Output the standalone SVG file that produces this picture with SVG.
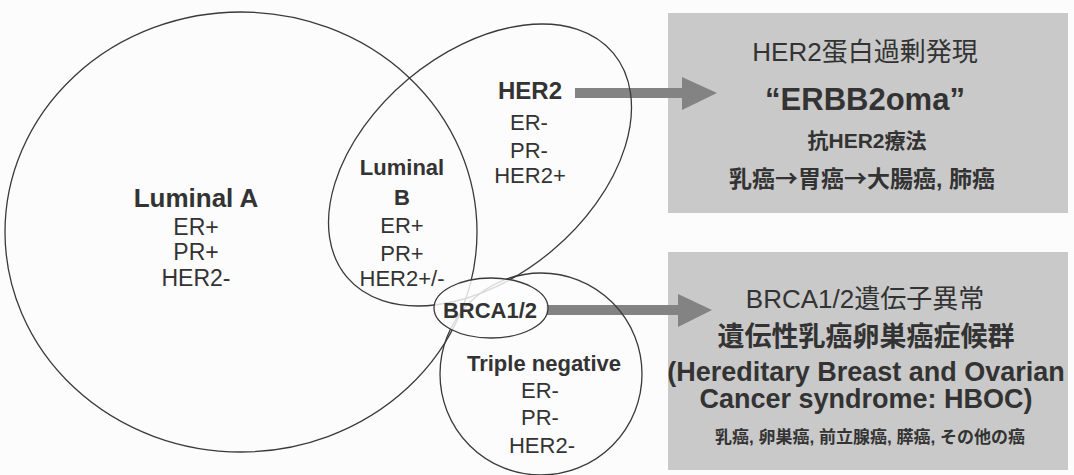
<svg xmlns="http://www.w3.org/2000/svg" width="1074" height="475" viewBox="0 0 1074 475">
<style>
.bg{fill:#fcfcfc}
.box{fill:#c9c9c9}
.arrow{fill:#838383}
.shape{fill:none;stroke:#3a3a3a;stroke-width:1.3}
.veil{fill:#fcfcfc;fill-opacity:0.82;stroke:#3a3a3a;stroke-width:1.3}
text{font-family:"Liberation Sans","Noto Sans CJK JP",sans-serif;fill:#333;text-anchor:middle}
.b{font-weight:bold}
.cjk{font-family:"Noto Sans CJK JP",sans-serif}
</style>
<rect class="bg" x="0" y="0" width="1074" height="475"/>
<g id="box1">
<rect class="box" x="668" y="13" width="400" height="200"/>
<text x="865" y="61" font-size="26">HER2蛋白過剰発現</text>
<text class="b" x="865" y="110" font-size="31">“ERBB2oma”</text>
<text class="b" x="867" y="147.5" font-size="21">抗HER2療法</text>
<text class="b" x="862" y="187" font-size="23">乳癌<tspan class="cjk">→</tspan>胃癌<tspan class="cjk">→</tspan>大腸癌, 肺癌</text>
</g>
<g id="box2">
<rect class="box" x="668" y="252" width="400" height="218"/>
<text x="865" y="307.5" font-size="26">BRCA1/2遺伝子異常</text>
<text class="b" x="866" y="345.5" font-size="27">遺伝性乳癌卵巣癌症候群</text>
<text class="b" x="866" y="380.5" font-size="27">(Hereditary Breast and Ovarian</text>
<text class="b" x="866" y="408" font-size="27">Cancer syndrome: HBOC)</text>
<text class="b" x="870" y="442.5" font-size="17">乳癌, 卵巣癌, 前立腺癌, 膵癌, その他の癌</text>
</g>
<g id="connectors">
<rect class="arrow" x="575" y="88" width="108" height="10"/>
<polygon class="arrow" points="682,77 717,93 682,110"/>
<rect class="arrow" x="546" y="305" width="133" height="10"/>
<polygon class="arrow" points="678,294 712,310 678,327"/>
</g>
<g id="luminalA">
<ellipse class="shape" cx="241" cy="232" rx="236" ry="220"/>
<text class="b" x="196" y="207" font-size="26">Luminal A</text>
<text x="196" y="235" font-size="23">ER+</text>
<text x="196" y="260" font-size="23">PR+</text>
<text x="196" y="286" font-size="23">HER2-</text>
</g>
<g id="her2">
<ellipse class="shape" cx="480" cy="165" rx="174" ry="112" transform="rotate(-40 480 165)"/>
<text class="b" x="530" y="98.5" font-size="24">HER2</text>
<text x="529" y="130" font-size="22">ER-</text>
<text x="529" y="158" font-size="22">PR-</text>
<text x="530" y="183" font-size="22">HER2+</text>
</g>
<g id="luminalB">
<text class="b" x="402" y="175" font-size="22">Luminal</text>
<text class="b" x="402" y="205" font-size="22">B</text>
<text x="402" y="233" font-size="22">ER+</text>
<text x="402" y="261" font-size="22">PR+</text>
<text x="402" y="286" font-size="22">HER2+/-</text>
</g>
<g id="triple">
<circle class="shape" cx="541" cy="374" r="101"/>
<text class="b" x="544" y="371" font-size="22">Triple negative</text>
<text x="540" y="398" font-size="22">ER-</text>
<text x="540" y="425" font-size="22">PR-</text>
<text x="542" y="453" font-size="22">HER2-</text>
</g>
<g id="brca">
<ellipse class="veil" cx="491" cy="308" rx="57" ry="30"/>
<text class="b" x="490" y="318" font-size="22">BRCA1/2</text>
</g>
</svg>
